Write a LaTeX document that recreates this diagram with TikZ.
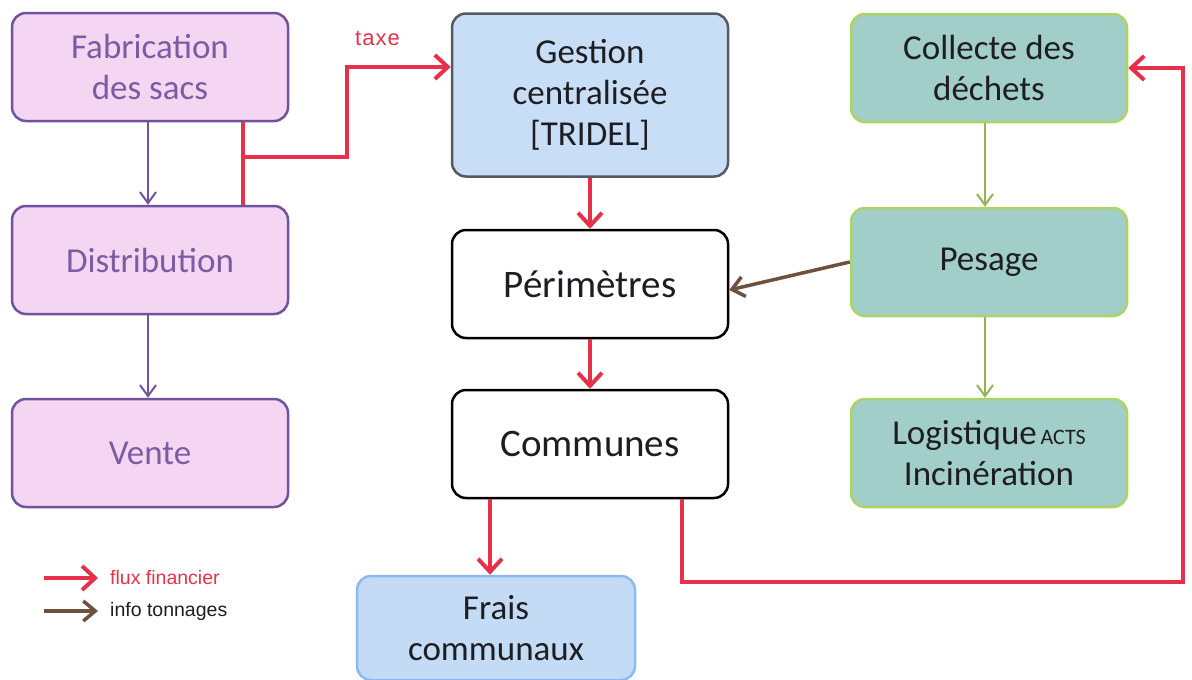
\documentclass[tikz,border=0pt]{standalone}
\usepackage{fontspec}
\setmainfont{Carlito}
\newfontfamily\legendfont{Liberation Sans}
\usetikzlibrary{arrows.meta}
\definecolor{fabfill}{RGB}{245,214,242}
\definecolor{fabdraw}{RGB}{112,82,160}
\definecolor{fabtext}{RGB}{122,92,162}
\definecolor{gestfill}{RGB}{200,222,246}
\definecolor{gestdraw}{RGB}{88,88,98}
\definecolor{fraisfill}{RGB}{196,219,246}
\definecolor{fraisdraw}{RGB}{140,185,240}
\definecolor{tealfill}{RGB}{162,206,201}
\definecolor{tealdraw}{RGB}{172,212,100}
\definecolor{fluxred}{RGB}{232,48,74}
\definecolor{infobrown}{RGB}{110,80,62}
\definecolor{darktext}{RGB}{30,30,34}

\begin{document}
\begin{tikzpicture}[x=1pt,y=-1pt,
  box/.style = {shape=rectangle, rounded corners=14pt, line width=2.5pt,
    align=center, inner sep=0pt, minimum width=276pt, minimum height=108pt,
    text=darktext, font=\fontsize{35}{41}\selectfont},
  fabbox/.style = {box, draw=fabdraw, fill=fabfill, text=fabtext},
  gestbox/.style = {box, draw=gestdraw, fill=gestfill},
  plainbox/.style = {box, draw=black, fill=white, font=\fontsize{39}{45}\selectfont},
  fraisbox/.style = {box, draw=fraisdraw, fill=fraisfill, minimum width=278pt, minimum height=104pt},
  tealbox/.style = {box, draw=tealdraw, fill=tealfill},
  flux/.style = {draw=fluxred, line width=4pt},
  fluxarrow/.style = {flux, -{Straight Barb[length=13pt,width=24pt,line width=4pt]}},
  info/.style = {draw=infobrown, line width=3.5pt, -{Straight Barb[length=12pt,width=20pt,line width=3.5pt]}},
  purplearrow/.style = {draw=fabdraw, line width=2pt, -{Straight Barb[length=11pt,width=16pt,line width=2pt]}},
  greenarrow/.style = {draw=tealdraw!85!black, line width=2pt, -{Straight Barb[length=11pt,width=16pt,line width=2pt]}},
  legend/.style = {anchor=west, inner sep=0pt, font=\legendfont\fontsize{19.5}{23}\selectfont}]
  \useasboundingbox (0,0) rectangle (1192,680);

  \node[fabbox] (fab) at (150,67) {Fabrication\\des sacs};
  \node[fabbox] (distrib) at (150,260) {Distribution};
  \node[fabbox] (vente) at (150,453) {Vente};

  \node[gestbox, minimum height=163pt] (gestion) at (590,95) {Gestion\\centralisée\\{[TRIDEL]}};
  \node[plainbox] (perim) at (590,284) {Périmètres};
  \node[plainbox] (communes) at (590,444) {Communes};
  \node[fraisbox] (frais) at (496,628) {Frais\\communaux};

  \node[tealbox] (collecte) at (989,68) {Collecte des\\déchets};
  \node[tealbox] (pesage) at (989,262) {Pesage};
  \node[tealbox] (logist) at (989,453) {Logistique{\fontsize{22}{26}\selectfont\,ACTS}\\Incinération};

  \draw[purplearrow] (fab.south -| 148,0) -- (distrib.north -| 148,0);
  \draw[purplearrow] (distrib.south -| 148,0) -- (vente.north -| 148,0);
  \draw[greenarrow] (collecte.south -| 985,0) -- (pesage.north -| 985,0);
  \draw[greenarrow] (pesage.south -| 985,0) -- (logist.north -| 985,0);

  \coordinate (taxjoin) at (243,157);
  \draw[flux] (fab.south -| taxjoin) -- (distrib.north -| taxjoin);
  \draw[fluxarrow] (taxjoin) -- (347,157) |- (gestion.west |- fab.east);
  \node[legend, text=fluxred, font=\legendfont\fontsize{22}{26}\selectfont] (taxe) at (355,38) {t\hspace{1pt}a\hspace{1pt}x\hspace{1pt}e};

  \draw[fluxarrow] (gestion) -- (perim);
  \draw[fluxarrow] (perim) -- (communes);
  \draw[fluxarrow] (communes.south -| 490,0) -- (frais.north -| 490,0);
  \draw[fluxarrow] (communes.south -| 682,0) |- (1183,582) |- (collecte.east);
  \draw[info] (pesage.west) -- ([yshift=-6pt]perim.east);

  \coordinate (legflux) at (44,578);
  \coordinate (leginfo) at (44,611);
  \node[legend, text=fluxred] (fluxtext) at (110,578) {flux financier};
  \node[legend, text=darktext] (infotext) at (110,611) {info tonnages};
  \draw[fluxarrow] (legflux) -- ([xshift=-12pt]fluxtext.west);
  \draw[info] (leginfo) -- ([xshift=-12pt]infotext.west);
\end{tikzpicture}
\end{document}
